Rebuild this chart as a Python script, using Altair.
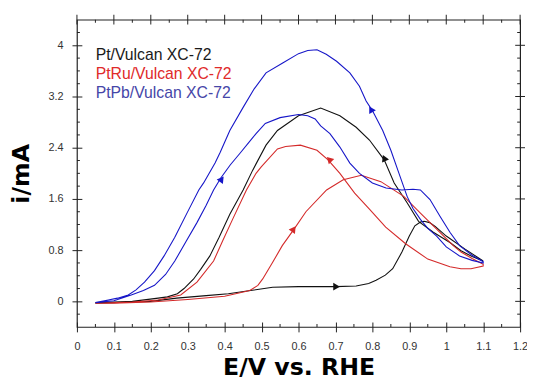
import altair as alt
import pandas as pd

# ---------------- data ----------------
series_names = ["Pt/Vulcan XC-72", "PtRu/Vulcan XC-72", "PtPb/Vulcan XC-72"]
line_colors = ["#111111", "#d42a2a", "#1616c8"]
legend_colors = ["#1a1a1a", "#e02a2a", "#4646a8"]

# Pt/Vulcan XC-72
pt_fwd_E = [0.05, 0.10, 0.15, 0.20, 0.27, 0.35, 0.41, 0.47, 0.53, 0.60, 0.70, 0.756, 0.79, 0.81,
            0.835, 0.855, 0.88, 0.90, 0.915, 0.93, 0.94, 0.955, 0.97, 1.00, 1.05, 1.10]
pt_fwd_I = [-0.03, -0.02, -0.01, 0.00, 0.05, 0.09, 0.12, 0.17, 0.22, 0.23, 0.23, 0.24, 0.28, 0.33,
            0.41, 0.51, 0.77, 1.02, 1.18, 1.24, 1.25, 1.23, 1.17, 1.02, 0.82, 0.63]
pt_bwd_E = [1.10, 1.07, 1.04, 1.01, 0.965, 0.925, 0.894, 0.859, 0.832, 0.792, 0.756, 0.712, 0.66,
            0.60, 0.543, 0.512, 0.476, 0.45, 0.414, 0.385, 0.36, 0.335, 0.316, 0.29, 0.272, 0.245,
            0.22, 0.15, 0.10, 0.05]
pt_bwd_I = [0.63, 0.70, 0.79, 0.92, 1.08, 1.25, 1.54, 1.85, 2.21, 2.52, 2.72, 2.90, 3.02,
            2.90, 2.67, 2.44, 2.05, 1.74, 1.36, 1.00, 0.71, 0.50, 0.35, 0.20, 0.12, 0.07,
            0.05, 0.00, -0.01, -0.02]

# PtRu/Vulcan XC-72
ptru_fwd_E = [0.05, 0.10, 0.20, 0.30, 0.40, 0.468, 0.49, 0.503, 0.53, 0.556, 0.587, 0.62, 0.676,
              0.721, 0.77, 0.823, 0.885, 0.93, 0.974, 1.019, 1.04, 1.07, 1.10]
ptru_fwd_I = [-0.03, -0.03, -0.01, 0.03, 0.08, 0.17, 0.25, 0.35, 0.61, 0.87, 1.12, 1.40, 1.74,
              1.90, 1.97, 1.87, 1.64, 1.38, 1.13, 0.87, 0.77, 0.67, 0.58]
ptru_bwd_E = [1.10, 1.067, 1.04, 1.01, 0.95, 0.89, 0.836, 0.792, 0.752, 0.712, 0.68, 0.65, 0.605,
              0.565, 0.543, 0.499, 0.485, 0.459, 0.423, 0.395, 0.37, 0.325, 0.281, 0.22, 0.15, 0.05]
ptru_bwd_I = [0.55, 0.51, 0.51, 0.54, 0.66, 0.90, 1.16, 1.44, 1.69, 2.00, 2.21, 2.36, 2.44,
              2.42, 2.38, 2.10, 2.00, 1.74, 1.30, 0.95, 0.63, 0.30, 0.10, 0.02, -0.01, -0.03]

# PtPb/Vulcan XC-72
ptpb_fwd_E = [0.05, 0.10, 0.147, 0.18, 0.21, 0.24, 0.265, 0.295, 0.325, 0.35, 0.37, 0.39, 0.415,
              0.441, 0.465, 0.485, 0.51, 0.55, 0.60, 0.625, 0.645, 0.66, 0.685, 0.712, 0.739,
              0.765, 0.80, 0.837, 0.88, 0.91, 0.93, 0.956, 0.983, 1.01, 1.036, 1.07, 1.10]
ptpb_fwd_I = [-0.02, 0.01, 0.10, 0.17, 0.25, 0.42, 0.63, 0.93, 1.23, 1.50, 1.74, 1.93, 2.13,
              2.31, 2.48, 2.62, 2.78, 2.87, 2.92, 2.90, 2.85, 2.74, 2.62, 2.41, 2.16,
              2.00, 1.85, 1.77, 1.74, 1.75, 1.74, 1.59, 1.33, 1.08, 0.87, 0.72, 0.62]
ptpb_bwd_E = [1.10, 1.07, 1.036, 1.00, 0.974, 0.95, 0.93, 0.91, 0.894, 0.872, 0.85, 0.828, 0.80,
              0.783, 0.765, 0.739, 0.703, 0.675, 0.65, 0.625, 0.60, 0.556, 0.512, 0.48, 0.45,
              0.414, 0.388, 0.374, 0.343, 0.33, 0.299, 0.265, 0.236, 0.21, 0.183, 0.16, 0.139,
              0.11, 0.085, 0.05]
ptpb_bwd_I = [0.60, 0.64, 0.71, 0.85, 1.02, 1.14, 1.28, 1.45, 1.64, 2.00, 2.36, 2.67, 2.98,
              3.13, 3.36, 3.57, 3.75, 3.86, 3.93, 3.92, 3.87, 3.72, 3.57, 3.32, 3.03,
              2.67, 2.33, 2.16, 1.85, 1.74, 1.39, 1.00, 0.71, 0.48, 0.30, 0.18, 0.10,
              0.05, 0.02, -0.02]

# direction arrows
arrow_series = ["Pt/Vulcan XC-72", "Pt/Vulcan XC-72", "PtRu/Vulcan XC-72",
                "PtRu/Vulcan XC-72", "PtPb/Vulcan XC-72", "PtPb/Vulcan XC-72"]
arrow_E = [0.703, 0.832, 0.587, 0.683, 0.392, 0.796]
arrow_I = [0.23, 2.24, 1.13, 2.22, 1.91, 3.00]
arrow_angle = [90, 336, 35, 315, 36, 330]

# axes: domains and ticks
x_domain = [0, 1.2]
y_domain = [-0.4, 4.4]
x_major = [0, 0.1, 0.2, 0.3, 0.4, 0.5, 0.6, 0.7, 0.8, 0.9, 1, 1.1, 1.2]
x_minor = [0.05, 0.15, 0.25, 0.35, 0.45, 0.55, 0.65, 0.75, 0.85, 0.95, 1.05, 1.15]
y_major = [0, 0.8, 1.6, 2.4, 3.2, 4]
y_minor = [-0.2, 0.2, 0.4, 0.6, 1.0, 1.2, 1.4, 1.8, 2.0, 2.2, 2.6, 2.8, 3.0, 3.4, 3.6, 3.8, 4.2]

# ---------------- build tables ----------------
rows = []
curves = [
    (series_names[0], pt_fwd_E + pt_bwd_E, pt_fwd_I + pt_bwd_I),
    (series_names[1], ptru_fwd_E + ptru_bwd_E, ptru_fwd_I + ptru_bwd_I),
    (series_names[2], ptpb_fwd_E + ptpb_bwd_E, ptpb_fwd_I + ptpb_bwd_I),
]
for name, es, is_ in curves:
    for k, (e, i) in enumerate(zip(es, is_)):
        rows.append({"series": name, "idx": k, "E": e, "I": i})
df = pd.DataFrame(rows)
arrows = pd.DataFrame({"series": arrow_series, "E": arrow_E, "I": arrow_I, "ang": arrow_angle})

W, H = 450, 312
xs = alt.Scale(domain=x_domain, nice=False, zero=False)
ys = alt.Scale(domain=y_domain, nice=False, zero=False)
cs = alt.Scale(domain=series_names, range=line_colors)

LABEL_FONT = "Liberation Sans"
TITLE_FONT = "DejaVu Sans"
TICK_COLOR = "#222222"

x_axis = alt.Axis(
    orient="bottom", values=x_major, tickSize=10, offset=-5, domain=False, grid=False,
    tickColor=TICK_COLOR, tickWidth=1, format=".1~f", labelFont=LABEL_FONT, labelFontSize=11,
    labelColor="#333333", labelPadding=9, labelFlush=False, labelOverlap=False,
    title="E/V vs. RHE", titleFont=TITLE_FONT, titleFontSize=24, titleFontWeight="bold",
    titleColor="#000000", titlePadding=4, zindex=1,
)
y_axis = alt.Axis(
    orient="left", values=y_major, tickSize=10, offset=-5, domain=False, grid=False,
    tickColor=TICK_COLOR, tickWidth=1, format=".1~f", labelFont=LABEL_FONT, labelFontSize=11,
    labelColor="#333333", labelPadding=9, labelFlush=False, labelOverlap=False,
    title="i/mA", titleFont=TITLE_FONT, titleFontSize=24, titleFontWeight="bold",
    titleColor="#000000", titlePadding=15, zindex=1,
)

lines = alt.Chart(df).mark_line(strokeWidth=1.1).encode(
    x=alt.X("E:Q", scale=xs, axis=x_axis),
    y=alt.Y("I:Q", scale=ys, axis=y_axis),
    color=alt.Color("series:N", scale=cs, legend=None),
    detail="series:N",
    order="idx:Q",
)


# extra tick marks on the frame (minor ticks, mirrored top/right ticks), placed via the scales
def xticks(values, edge, length, shift):
    d = pd.DataFrame({"v": values, "edge": [edge] * len(values)})
    return alt.Chart(d).mark_tick(
        orient="vertical", size=length, thickness=1, color=TICK_COLOR, opacity=1, yOffset=shift
    ).encode(x=alt.X("v:Q", scale=xs, axis=None), y=alt.Y("edge:Q", scale=ys, axis=None))


def yticks(values, edge, length, shift):
    d = pd.DataFrame({"v": values, "edge": [edge] * len(values)})
    return alt.Chart(d).mark_tick(
        orient="horizontal", size=length, thickness=1, color=TICK_COLOR, opacity=1, xOffset=shift
    ).encode(y=alt.Y("v:Q", scale=ys, axis=None), x=alt.X("edge:Q", scale=xs, axis=None))


tick_layers = [
    xticks(x_minor, y_domain[0], 3, -1.5),   # bottom minor (inward)
    xticks(x_major, y_domain[1], 10, 0),     # top major (crossing)
    xticks(x_minor, y_domain[1], 3, 1.5),    # top minor (inward)
    yticks(y_minor, x_domain[0], 3, 1.5),    # left minor (inward)
    yticks(y_major, x_domain[1], 10, 0),     # right major (crossing)
    yticks(y_minor, x_domain[1], 3, -1.5),   # right minor (inward)
]

arrow_marks = alt.Chart(arrows).mark_point(shape="triangle-up", filled=True, size=60,
                                           opacity=1).encode(
    x=alt.X("E:Q", scale=xs, axis=None),
    y=alt.Y("I:Q", scale=ys, axis=None),
    angle=alt.Angle("ang:Q", scale=None),
    color=alt.Color("series:N", scale=cs, legend=None),
)

legend_layers = []
for k, (name, col) in enumerate(zip(series_names, legend_colors)):
    legend_layers.append(
        alt.Chart(pd.DataFrame({"t": [name]})).mark_text(
            align="left", baseline="alphabetic", font=LABEL_FONT, fontSize=16, color=col
        ).encode(
            x=alt.value(19),
            y=alt.value(41 + 19.5 * k),
            text="t:N",
        )
    )

chart = alt.layer(lines, arrow_marks, *legend_layers, *tick_layers).resolve_axis(
    x="independent", y="independent"
).properties(
    width=W,
    height=H,
    autosize=alt.AutoSizeParams(type="none"),
    padding={"left": 70, "top": 9, "right": 7, "bottom": 52},
    background="white",
).configure_view(stroke="#222222", strokeWidth=1.2)

chart.save("out.html", embed_options={"renderer": "svg", "actions": False})
